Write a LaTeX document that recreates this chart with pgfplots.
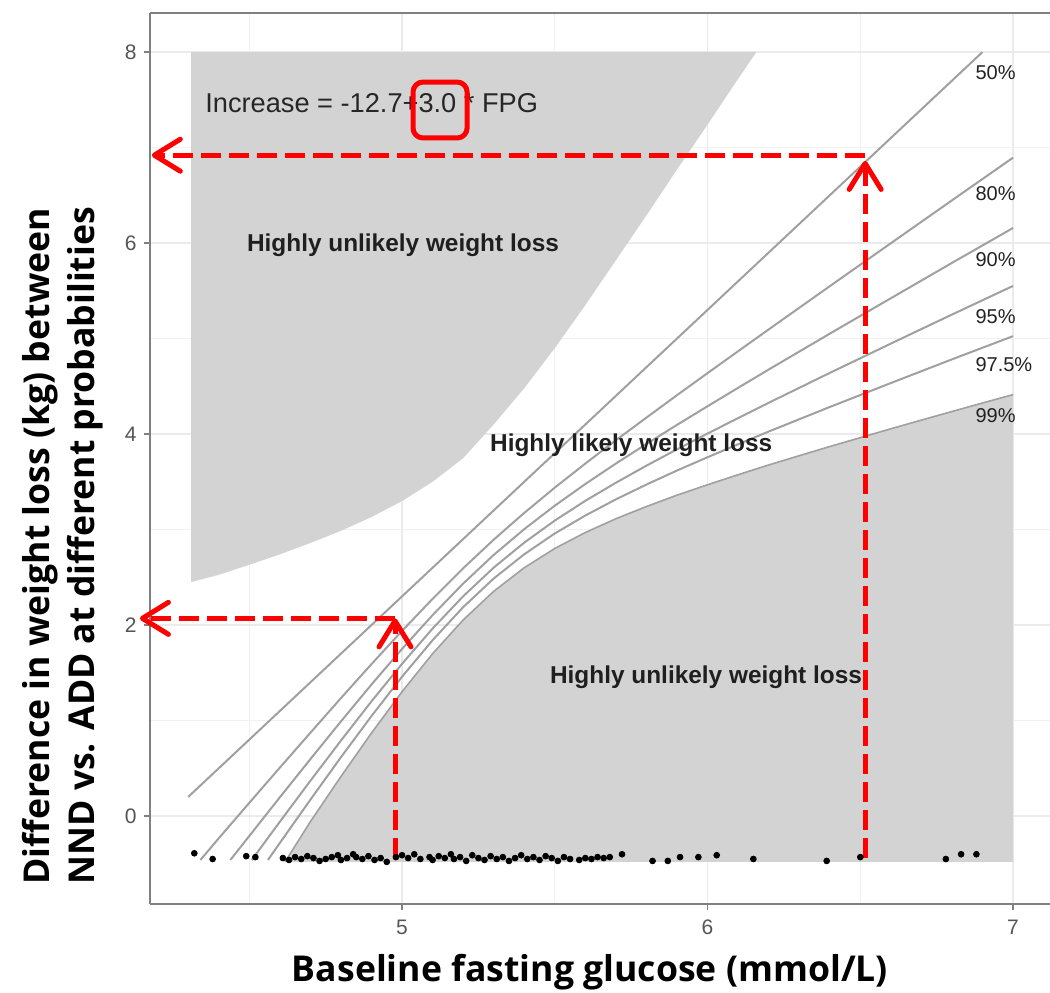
\documentclass[border=0pt]{standalone}
\usepackage{fontspec}
\setmainfont{Liberation Sans}
\newfontfamily\axisfont{Open Sans}
\usepackage{pgfplots}
\pgfplotsset{compat=1.18}
\usetikzlibrary{arrows.meta}
\definecolor{bandgray}{HTML}{D3D3D3}
\definecolor{qline}{HTML}{A0A0A0}
\definecolor{gridc}{HTML}{EBEBEB}
\definecolor{framec}{HTML}{808080}
\definecolor{tickc}{HTML}{555555}
\definecolor{pctc}{HTML}{222222}
\tikzset{
  pctlabel/.style={anchor=west, inner sep=0pt, font=\fontsize{10}{12}\selectfont, text=pctc},
  regionlabel/.style={font=\fontsize{12.2}{14}\selectfont\bfseries, text=black!88},
  titlefont/.style={font=\axisfont\bfseries\fontsize{17.8}{21}\selectfont},
  guide/.style={red, line width=2.5pt, dash pattern=on 10pt off 4pt,
    -{Straight Barb[length=13pt, width=16pt, line width=2.5pt, round]}},
}

\begin{document}
\begin{tikzpicture}
\begin{axis}[
  x=152.75pt, y=47.75pt,
  xmin=4.174, xmax=7.16, ymin=-0.921, ymax=8.408,
  axis x line=box, axis y line*=left,
  xtick={5,6,7}, ytick={0,2,4,6,8},
  minor xtick={4.5,5.5,6.5}, minor ytick={-1,1,3,5,7},
  grid=both,
  major grid style={gridc, line width=0.7pt},
  minor grid style={gridc!70, line width=0.5pt},
  axis line style={framec, line width=1pt, -},
  tick pos=left, tick align=outside,
  xtick pos=bottom,
  major tick length=3pt, minor tick length=0pt,
  tick style={framec, line width=0.8pt},
  ticklabel style={font=\fontsize{10.5}{12}\selectfont, text=tickc},
  xticklabel style={yshift=-1.5pt},
  /pgf/number format/assume math mode=true,
  clip=false,
]
% regions of highly unlikely weight loss
\addplot[fill=bandgray, draw=none] coordinates {
  (4.31,8.0) (4.31,2.45) (4.4,2.526) (4.5,2.631) (4.6,2.74) (4.7,2.859)
  (4.8,2.986) (4.9,3.131) (5.0,3.298) (5.1,3.5) (5.2,3.747) (5.3,4.10)
  (5.4,4.48) (5.5,4.90) (5.6,5.35) (5.7,5.82) (5.8,6.29) (5.9,6.77)
  (6.0,7.24) (6.1,7.72) (6.16,8.0)} -- cycle;
\addplot[fill=bandgray, draw=none] coordinates {
  (4.617,-0.48) (4.7,-0.059) (4.8,0.414) (4.9,0.869) (5.0,1.302) (5.1,1.70)
  (5.2,2.053) (5.3,2.353) (5.4,2.60) (5.5,2.802) (5.6,2.969) (5.7,3.113)
  (5.8,3.241) (5.9,3.36) (6.0,3.469) (6.1,3.574) (6.2,3.676) (6.3,3.773)
  (6.4,3.869) (6.5,3.962) (6.6,4.055) (6.7,4.146) (6.8,4.236) (6.9,4.325)
  (7.0,4.413) (7.0,-0.48)} -- cycle;

% probability lines
\addplot[qline, line width=1pt] coordinates {(4.3,0.2) (6.9,8.0)};
\addplot[qline, line width=1pt] coordinates {
  (4.34,-0.46) (4.4,-0.233) (4.5,0.138) (4.6,0.507) (4.7,0.872) (4.8,1.235)
  (4.9,1.591) (5.0,1.939) (5.1,2.274) (5.2,2.594) (5.3,2.894) (5.4,3.174)
  (5.5,3.439) (5.6,3.691) (5.7,3.935) (5.8,4.172) (5.9,4.407) (6.0,4.638)
  (6.1,4.867) (6.2,5.095) (6.4,5.548) (6.6,5.998) (6.8,6.447) (7.0,6.894)};
\addplot[qline, line width=1pt] coordinates {
  (4.438,-0.46) (4.5,-0.209) (4.6,0.196) (4.7,0.596) (4.8,0.991) (4.9,1.377)
  (5.0,1.75) (5.1,2.104) (5.2,2.434) (5.3,2.734) (5.4,3.004) (5.5,3.25)
  (5.6,3.477) (5.7,3.691) (5.8,3.896) (5.9,4.096) (6.0,4.291) (6.1,4.484)
  (6.2,4.675) (6.4,5.051) (6.6,5.422) (6.8,5.792) (7.0,6.158)};
\addplot[qline, line width=1pt] coordinates {
  (4.508,-0.46) (4.6,-0.06) (4.7,0.369) (4.8,0.79) (4.9,1.201) (5.0,1.594)
  (5.1,1.963) (5.2,2.301) (5.3,2.601) (5.4,2.863) (5.5,3.094) (5.6,3.301)
  (5.7,3.49) (5.8,3.669) (5.9,3.84) (6.0,4.005) (6.1,4.167) (6.2,4.327)
  (6.4,4.64) (6.6,4.947) (6.8,5.251) (7.0,5.551)};
\addplot[qline, line width=1pt] coordinates {
  (4.561,-0.46) (4.6,-0.282) (4.7,0.171) (4.8,0.616) (4.9,1.047) (5.0,1.459)
  (5.1,1.841) (5.2,2.187) (5.3,2.487) (5.4,2.741) (5.5,2.959) (5.6,3.147)
  (5.7,3.316) (5.8,3.471) (5.9,3.618) (6.0,3.757) (6.1,3.893) (6.2,4.026)
  (6.4,4.283) (6.6,4.534) (6.8,4.782) (7.0,5.025)};
\addplot[qline, line width=0.8pt] coordinates {
  (4.617,-0.48) (4.7,-0.059) (4.8,0.414) (4.9,0.869) (5.0,1.302) (5.1,1.70)
  (5.2,2.053) (5.3,2.353) (5.4,2.60) (5.5,2.802) (5.6,2.969) (5.7,3.113)
  (5.8,3.241) (5.9,3.36) (6.0,3.469) (6.1,3.574) (6.2,3.676) (6.3,3.773)
  (6.4,3.869) (6.5,3.962) (6.6,4.055) (6.7,4.146) (6.8,4.236) (6.9,4.325)
  (7.0,4.413)};

% observed baseline glucose values
\addplot[only marks, mark=*, mark size=1.45pt, black] coordinates {
  (4.32,-0.39) (4.38,-0.45) (4.49,-0.42) (4.52,-0.43)
  (4.61,-0.44) (4.63,-0.46) (4.65,-0.43) (4.67,-0.45) (4.69,-0.42) (4.71,-0.44)
  (4.73,-0.47) (4.75,-0.45) (4.77,-0.43) (4.79,-0.41) (4.80,-0.46) (4.82,-0.44)
  (4.84,-0.40) (4.85,-0.43) (4.87,-0.45) (4.89,-0.42) (4.91,-0.46) (4.93,-0.44)
  (4.95,-0.48) (4.98,-0.43) (5.00,-0.41) (5.02,-0.44) (5.04,-0.40) (5.06,-0.45)
  (5.09,-0.43) (5.10,-0.46) (5.12,-0.42) (5.14,-0.44) (5.16,-0.40) (5.17,-0.45)
  (5.19,-0.43) (5.21,-0.47) (5.23,-0.41) (5.25,-0.44) (5.27,-0.46) (5.29,-0.42)
  (5.31,-0.45) (5.33,-0.43) (5.35,-0.47) (5.37,-0.44) (5.39,-0.41) (5.41,-0.45)
  (5.43,-0.43) (5.45,-0.46) (5.47,-0.42) (5.49,-0.44) (5.51,-0.47) (5.53,-0.43)
  (5.55,-0.45) (5.58,-0.46) (5.60,-0.44) (5.62,-0.45) (5.64,-0.43) (5.66,-0.44)
  (5.68,-0.43) (5.72,-0.40) (5.82,-0.47) (5.87,-0.47) (5.91,-0.43) (5.97,-0.43)
  (6.03,-0.41) (6.15,-0.45) (6.39,-0.47) (6.50,-0.43) (6.78,-0.45) (6.83,-0.40)
  (6.88,-0.40)};

% labels inside the panel
\node[anchor=west, inner sep=0pt, font=\fontsize{13.6}{16}\selectfont, text=black!85] at (axis cs:4.355,7.466) {Increase = -12.7+3.0 * FPG};
\node[regionlabel] at (axis cs:5.003,5.98) {Highly unlikely weight loss};
\node[regionlabel] at (axis cs:5.75,3.885) {Highly likely weight loss};
\node[regionlabel] at (axis cs:5.995,1.455) {Highly unlikely weight loss};
\node[pctlabel] at (axis cs:6.876,7.78) {50\%};
\node[pctlabel] at (axis cs:6.876,6.52) {80\%};
\node[pctlabel] at (axis cs:6.876,5.83) {90\%};
\node[pctlabel] at (axis cs:6.876,5.23) {95\%};
\node[pctlabel] at (axis cs:6.876,4.73) {97.5\%};
\node[pctlabel] at (axis cs:6.876,4.19) {99\%};

% reading guides
\addplot[guide] coordinates {(4.977,-0.44) (4.977,2.07)};
\addplot[guide] coordinates {(4.977,2.07) (4.142,2.07)};
\addplot[guide] coordinates {(6.516,-0.44) (6.516,6.86)};
\addplot[guide] coordinates {(6.516,6.92) (4.181,6.92)};
\draw[red, line width=2.5pt, rounded corners=5pt] (axis cs:5.036,7.10) rectangle (axis cs:5.213,7.686);

% axis titles
\node[titlefont] at (axis cs:5.615,-1.634) {Baseline fasting glucose (mmol/L)};
\node[titlefont, rotate=90, anchor=west, inner sep=0pt] at (axis cs:3.815,-0.72) {Difference in weight loss (kg) between};
\node[titlefont, rotate=90, anchor=west, inner sep=0pt] at (axis cs:3.962,-0.72) {NND vs. ADD at different probabilities};

\coordinate (bbA) at (axis cs:3.684,-1.843);
\coordinate (bbB) at (axis cs:7.121,8.545);
\end{axis}
\pgfresetboundingbox
\path[use as bounding box] (bbA) rectangle (bbB);
\end{tikzpicture}
\end{document}
